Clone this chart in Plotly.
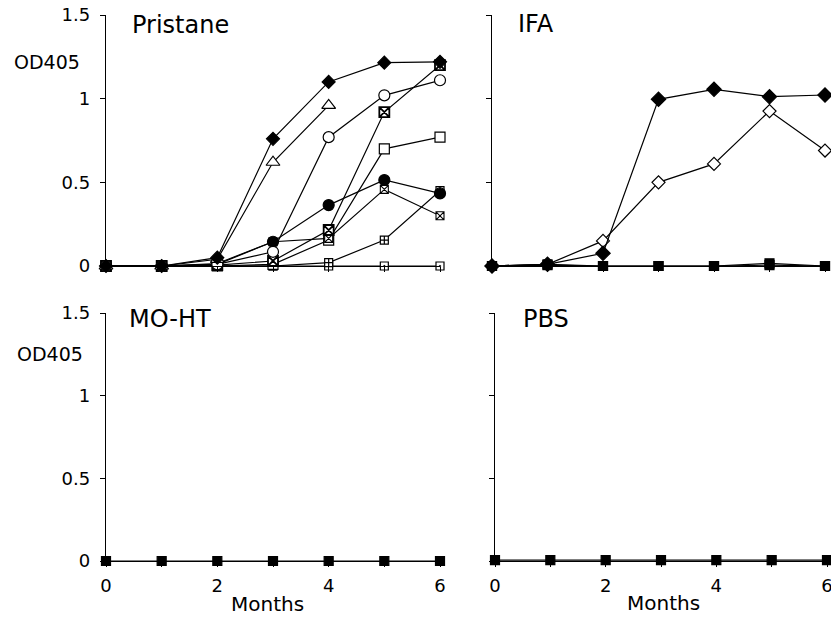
import plotly.graph_objects as go

W, H = 831, 619

months = [0, 1, 2, 3, 4, 5, 6]
months_tri = [0, 1, 2, 3, 4]

# Pristane panel series (OD405)
pri_filled_diamond = [0, 0, 0.05, 0.76, 1.10, 1.215, 1.22]
pri_open_triangle = [0, 0, 0.04, 0.62, 0.96]
pri_open_circle = [0, 0, 0.01, 0.085, 0.77, 1.02, 1.11]
pri_filled_circle = [0, 0, 0.015, 0.145, 0.364, 0.514, 0.434]
pri_circ_x_square = [0, 0, 0.01, 0.145, 0.165, 0.458, 0.30]
pri_x_square = [0, 0, 0.005, 0.03, 0.215, 0.92, 1.20]
pri_open_square = [0, 0, 0, 0.01, 0.155, 0.70, 0.77]
pri_slash_square = [0, 0, 0, 0, 0.02, 0.155, 0.45]
pri_zero = [0, 0, 0, 0, 0, 0, 0]

# IFA panel series
ifa_filled_diamond = [0, 0.01, 0.076, 0.996, 1.056, 1.012, 1.022]
ifa_open_diamond = [0, 0.01, 0.15, 0.50, 0.61, 0.926, 0.69]
ifa_square_a = [0, 0.005, 0, 0, 0, 0.016, 0]
ifa_square_b = [0, 0.01, 0, 0, 0, 0.005, 0]

# MO-HT and PBS panel series
moht_square = [0, 0, 0, 0, 0, 0, 0]
pbs_square = [0.005, 0.005, 0.005, 0.005, 0.005, 0.005, 0.005]

y_ticks = [0, 0.5, 1, 1.5]
y_tick_text = ["0", "0.5", "1", "1.5"]
x_ticks = [0, 1, 2, 3, 4, 5, 6]
x_tick_text = ["0", "", "2", "", "4", "", "6"]

panel_titles = ["Pristane", "IFA", "MO-HT", "PBS"]
y_title = "OD405"
x_title = "Months"

FONT = "DejaVu Sans"
LW = 1.3

def px_x(p):
    return p / W

def px_y(p):
    return 1 - p / H

fig = go.Figure()

def add(xs, ys, ax, symbol, size, fill="white", lw=1.2):
    fig.add_trace(go.Scatter(
        x=xs, y=ys, xaxis="x" + ax, yaxis="y" + ax, mode="lines+markers",
        line=dict(color="black", width=1.2),
        marker=dict(symbol=symbol, size=size, color=fill,
                    line=dict(color="black", width=lw)),
        cliponaxis=False, showlegend=False, hoverinfo="skip"))

# Pristane
add(months, pri_zero, "", "square-dot", 8)
add(months, pri_slash_square, "", "square-cross", 8)
add(months, pri_open_square, "", "square", 10)
add(months, pri_circ_x_square, "", "square-x", 8, lw=1.1)
add(months, pri_x_square, "", "square-x", 10, lw=1.8)
add(months, pri_filled_circle, "", "circle", 11, fill="black")
add(months, pri_open_circle, "", "circle", 11)
add(months_tri, pri_open_triangle, "", "triangle-up", 12)
add(months, pri_filled_diamond, "", "diamond", 10, fill="black")

# IFA
add(months, ifa_square_b, "2", "square", 9, fill="black")
add(months, ifa_square_a, "2", "square", 9, fill="black")
add(months, ifa_open_diamond, "2", "diamond", 10)
add(months, ifa_filled_diamond, "2", "diamond", 11, fill="black")

# MO-HT
add(months, moht_square, "3", "square", 9, fill="black")
# PBS
add(months, pbs_square, "4", "square", 9, fill="black")

def xaxis(dom, anchor, labels):
    return dict(domain=dom, anchor=anchor, range=[0, 6], showgrid=False,
                zeroline=False, showline=True, linecolor="black", linewidth=LW,
                ticks="outside", ticklen=5, tickwidth=LW, tickcolor="black",
                tickvals=x_ticks, ticktext=x_tick_text, automargin=False,
                showticklabels=labels, ticklabelstandoff=3,
                ticklabeloverflow="allow",
                tickfont=dict(family=FONT, size=18, color="black"), fixedrange=True)

def yaxis(dom, anchor, labels):
    return dict(domain=dom, anchor=anchor, range=[0, 1.5], showgrid=False,
                zeroline=False, showline=True, linecolor="black", linewidth=LW,
                ticks="outside", ticklen=5, tickwidth=LW, tickcolor="black",
                tickvals=y_ticks, ticktext=y_tick_text, automargin=False,
                showticklabels=labels, ticklabelstandoff=6,
                tickfont=dict(family=FONT, size=18, color="black"), fixedrange=True)

xl = [px_x(106), px_x(440)]
xr_top = [px_x(492), px_x(825)]
xr_bot = [px_x(495), px_x(827)]
yt = [px_y(266), px_y(15)]
yb = [px_y(561), px_y(313)]

annotations = []
def ann(text, x, y, size, xanchor="left"):
    annotations.append(dict(text=text, x=px_x(x), y=px_y(y), xref="paper", yref="paper",
                            xanchor=xanchor, yanchor="middle", showarrow=False,
                            font=dict(family=FONT, size=size, color="black")))

ann(panel_titles[0], 130, 24.5, 24)
ann(panel_titles[1], 516, 24, 24)
ann(panel_titles[2], 127, 319, 24)
ann(panel_titles[3], 521, 318.5, 24)
ann(y_title, 47, 62.5, 19, "center")
ann(y_title, 49.5, 354, 19, "center")
ann(x_title, 267, 604, 20, "center")
ann(x_title, 663.5, 603, 20, "center")

fig.update_layout(
    width=W, height=H, margin=dict(l=0, r=0, t=0, b=0),
    paper_bgcolor="white", plot_bgcolor="white",
    xaxis=xaxis(xl, "y", False), yaxis=yaxis(yt, "x", True),
    xaxis2=xaxis(xr_top, "y2", False), yaxis2=yaxis(yt, "x2", False),
    xaxis3=xaxis(xl, "y3", True), yaxis3=yaxis(yb, "x3", True),
    xaxis4=xaxis(xr_bot, "y4", True), yaxis4=yaxis(yb, "x4", False),
    annotations=annotations,
)

fig.write_html("out.html", config={"displayModeBar": False},
               post_script="document.body.style.margin='0';document.body.style.overflow='hidden';")
